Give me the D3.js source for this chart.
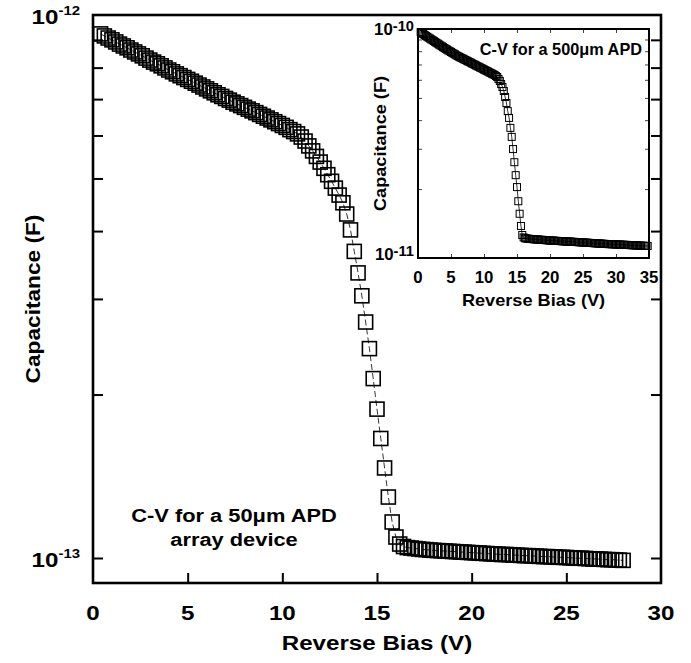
<!DOCTYPE html>
<html>
<head>
<meta charset="utf-8">
<script src="https://cdn.jsdelivr.net/npm/d3@7"></script>
<style>
  body { margin: 0; background: #fff; }
  text { font-family: "Liberation Sans", Arial, sans-serif; fill: #000; }
</style>
</head>
<body>
<div id="chart"></div>
<script>
// main curve: 50um array device, capacitance in fF
const biasMain = [
  0.4,0.6,0.8,1.0,1.2,1.4,1.6,1.8,2.0,2.2,
  2.4,2.6,2.8,3.0,3.2,3.4,3.6,3.8,4.0,4.2,
  4.4,4.6,4.8,5.0,5.2,5.4,5.6,5.8,6.0,6.2,
  6.4,6.6,6.8,7.0,7.2,7.4,7.6,7.8,8.0,8.2,
  8.4,8.6,8.8,9.0,9.2,9.4,9.6,9.8,10.0,10.2,
  10.4,10.6,10.8,11.0,11.2,11.4,11.6,11.8,12.0,12.2,
  12.4,12.6,12.8,13.0,13.2,13.4,13.6,13.8,14.0,14.2,
  14.4,14.6,14.8,15.0,15.2,15.4,15.6,15.8,16.0,16.2,
  16.4,16.6,16.8,17.0,17.2,17.4,17.6,17.8,18.0,18.2,
  18.4,18.6,18.8,19.0,19.2,19.4,19.6,19.8,20.0,20.2,
  20.4,20.6,20.8,21.0,21.2,21.4,21.6,21.8,22.0,22.2,
  22.4,22.6,22.8,23.0,23.2,23.4,23.6,23.8,24.0,24.2,
  24.4,24.6,24.8,25.0,25.2,25.4,25.6,25.8,26.0,26.2,
  26.4,26.6,26.8,27.0,27.2,27.4,27.6,27.8,28.0
];
const capMain = [
  923,915,907,900,892,884,877,870,862,855,848,841,833,826,819,813,806,799,792,
  786,779,773,767,761,755,749,743,737,731,725,719,713,708,702,
  697,691,686,681,676,671,666,661,656,651,646,641,636,631,626,
  621,615,610,604,596,586,574,562,549,536,522,508,494,480,466,451,430,402,367,335,
  304,272,243,214,188,166,146.5,129.5,116.5,109.3,106.1,105.0,104.5,
  104.3,104.1,103.9,103.7,103.6,103.4,
  103.3,103.2,103.1,103.0,102.9,102.8,102.7,102.6,102.5,102.4,102.3,102.2,102.1,102.0,
  101.9,101.8,101.7,101.6,101.5,101.5,101.4,101.3,
  101.2,101.1,101.0,101.0,100.9,100.8,100.7,100.6,100.6,100.5,100.4,100.3,100.3,100.2,
  100.1,100.0,99.9,99.9,99.8,99.7,99.6,99.6,99.5,99.4,99.3,99.3,99.2,99.1,99.0
];

// inset curve: 500um APD, capacitance in pF
const biasInset = [
  0.4,0.6,0.8,1.0,1.2,1.4,1.6,1.8,2.0,2.2,
  2.4,2.6,2.8,3.0,3.2,3.4,3.6,3.8,4.0,4.2,
  4.4,4.6,4.8,5.0,5.2,5.4,5.6,5.8,6.0,6.2,
  6.4,6.6,6.8,7.0,7.2,7.4,7.6,7.8,8.0,8.2,
  8.4,8.6,8.8,9.0,9.2,9.4,9.6,9.8,10.0,10.2,
  10.4,10.6,10.8,11.0,11.2,11.4,11.6,11.8,12.0,12.2,
  12.4,12.6,12.8,13.0,13.2,13.4,13.6,13.8,14.0,14.2,
  14.4,14.6,14.8,15.0,15.2,15.4,15.6,15.8,16.0,16.2,
  16.4,16.6,16.8,17.0,17.2,17.4,17.6,17.8,18.0,18.2,
  18.4,18.6,18.8,19.0,19.2,19.4,19.6,19.8,20.0,20.2,
  20.4,20.6,20.8,21.0,21.2,21.4,21.6,21.8,22.0,22.2,
  22.4,22.6,22.8,23.0,23.2,23.4,23.6,23.8,24.0,24.2,
  24.4,24.6,24.8,25.0,25.2,25.4,25.6,25.8,26.0,26.2,
  26.4,26.6,26.8,27.0,27.2,27.4,27.6,27.8,28.0,28.2,
  28.4,28.6,28.8,29.0,29.2,29.4,29.6,29.8,30.0,30.2,
  30.4,30.6,30.8,31.0,31.2,31.4,31.6,31.8,32.0,32.2,
  32.4,32.6,32.8,33.0,33.2,33.4,33.6,33.8,34.0,34.2,
  34.4,34.6,34.8
];
const capInset = [
  97.0,96.1,95.1,94.2,93.3,92.5,91.7,90.9,90.1,89.4,88.6,87.8,87.0,86.3,85.5,84.8,84.1,83.3,82.6,
  81.9,81.3,80.6,80.0,79.4,78.7,78.1,77.5,76.8,76.2,
  75.7,75.2,74.7,74.2,73.7,73.2,72.7,72.2,71.8,71.3,70.7,70.3,69.8,69.3,68.8,68.4,67.9,67.5,67.0,66.5,
  66.1,65.6,65.2,64.7,64.3,63.8,63.4,63.0,62.3,61.7,
  60.5,59.3,57.5,55.8,53.6,50.5,47.5,43.8,40.9,37.0,33.8,29.9,26.2,23.0,20.4,17.7,15.6,13.8,12.6,12.3,12.2,
  12.17,12.15,12.13,12.11,
  12.10,12.09,12.07,12.06,12.05,12.04,12.02,12.01,12.00,11.99,11.98,11.96,11.95,11.94,11.93,
  11.92,11.91,11.90,11.89,11.88,11.87,11.86,11.85,11.84,11.83,11.82,11.81,11.80,11.80,11.79,11.78,11.77,11.76,11.75,11.74,
  11.73,11.72,11.71,11.70,11.69,11.68,11.67,11.66,11.65,11.64,11.63,11.62,11.61,11.60,11.59,11.58,11.57,11.56,11.55,11.54,11.53,11.52,11.51,
  11.50,11.50,11.49,11.48,11.48,11.47,11.46,11.46,11.45,11.44,11.43,11.43,11.42,11.41,11.41,11.40,11.39,
  11.38,11.37,11.37,11.36,11.35,11.34,11.34,11.33,11.32,11.31,11.30,11.30,11.29,11.28
];

const xTicksMain = [0, 5, 10, 15, 20, 25, 30];
const xTicksInset = [0, 5, 10, 15, 20, 25, 30, 35];
const yMinorMain = [100, 200, 300, 400, 500, 600, 700, 800, 900];   // fF
const yMinorInset = [20, 30, 40, 50, 60, 70, 80, 90];               // pF
const yLabelsMain = [{v: 1000, exp: '-12'}, {v: 100, exp: '-13'}];
const yLabelsInset = [{v: 100, exp: '-10'}, {v: 10, exp: '-11'}];

const width = 691, height = 663;

let svg = d3.select('#chart')
  .append('svg')
  .attr('width', width)
  .attr('height', height);

function addText(g, x, y, str, o) {
  o = o || {};
  return g.append('text')
    .attr('transform', `translate(${x},${y}) rotate(${o.rotate || 0}) scale(${o.sx || 1},1)`)
    .attr('text-anchor', o.anchor || 'middle')
    .style('font-weight', o.weight || 'bold')
    .style('font-size', o.size + 'px')
    .text(str);
}

function powLabel(g, x, y, exp, o) {
  let t = addText(g, x, y, '', {anchor: 'end', size: o.size, sx: o.sx});
  t.append('tspan').text('10');
  t.append('tspan').attr('dy', -o.rise).style('font-size', o.sup + 'px').text(exp);
}

function styleAxis(sel, w, col) {
  sel.select('.domain').remove();
  sel.selectAll('.tick line').attr('stroke', col).attr('stroke-width', w);
}

// ---------- main plot ----------
let x = d3.scaleLinear().domain([0, 30]).range([93, 661]);
let y = d3.scaleLog().domain([100, 1000]).range([558, 15]);
const mTop = 15, mBottom = 583;

svg.append('g').attr('transform', `translate(0,${mBottom})`)
  .call(d3.axisBottom(x).tickValues([5, 10, 15, 20, 25]).tickSize(-10).tickFormat(''))
  .call(s => styleAxis(s, 2, '#000'));
svg.append('g').attr('transform', `translate(${x(0)},0)`)
  .call(d3.axisLeft(y).tickValues(yMinorMain).tickSize(-10).tickFormat(''))
  .call(s => styleAxis(s, 2, '#000'));
svg.append('g').attr('transform', `translate(${x(30)},0)`)
  .call(d3.axisRight(y).tickValues(yMinorMain).tickSize(-10).tickFormat(''))
  .call(s => styleAxis(s, 2, '#000'));

svg.append('rect')
  .attr('x', x(0)).attr('y', mTop)
  .attr('width', x(30) - x(0)).attr('height', mBottom - mTop)
  .attr('fill', 'none').attr('stroke', '#000').attr('stroke-width', 2.6);

let mainData = d3.zip(biasMain, capMain);

svg.append('path')
  .datum(mainData)
  .attr('fill', 'none')
  .attr('stroke', '#000')
  .attr('stroke-width', 0.8)
  .attr('stroke-dasharray', '6,3')
  .attr('d', d3.line().x(d => x(d[0])).y(d => y(d[1])));

svg.append('g').selectAll('rect')
  .data(mainData)
  .enter()
  .append('rect')
    .attr('x', d => x(d[0]) - 7)
    .attr('y', d => y(d[1]) - 7)
    .attr('width', 14)
    .attr('height', 14)
    .attr('fill', 'none')
    .attr('stroke', '#000')
    .attr('stroke-width', 1.6);

xTicksMain.forEach(t => addText(svg, x(t), 620, t, {size: 21, sx: 1.15}));
yLabelsMain.forEach(d => powLabel(svg, 80, y(d.v) + 9, d.exp, {size: 21, sup: 13, rise: 9, sx: 1.15}));

addText(svg, (x(0) + x(30)) / 2, 650, 'Reverse Bias (V)', {size: 21, sx: 1.15});
addText(svg, 40, (mTop + mBottom) / 2, 'Capacitance (F)', {size: 21, sx: 1.08, rotate: -90});

addText(svg, 234, 522, 'C-V for a 50\u03bcm APD', {size: 19, sx: 1.15});
addText(svg, 234, 546, 'array device', {size: 19, sx: 1.15});

// ---------- inset ----------
let xi = d3.scaleLinear().domain([0, 35]).range([418, 649]);
let yi = d3.scaleLog().domain([10, 100]).range([258, 29]);

svg.append('g').attr('transform', `translate(0,${yi(10)})`)
  .call(d3.axisBottom(xi).tickValues([5, 10, 15, 20, 25, 30]).tickSize(-4).tickFormat(''))
  .call(s => styleAxis(s, 1, '#444'));
svg.append('g').attr('transform', `translate(0,${yi(100)})`)
  .call(d3.axisTop(xi).tickValues([5, 10, 15, 20, 25, 30]).tickSize(-4).tickFormat(''))
  .call(s => styleAxis(s, 1, '#444'));
svg.append('g').attr('transform', `translate(${xi(0)},0)`)
  .call(d3.axisLeft(yi).tickValues(yMinorInset).tickSize(-4).tickFormat(''))
  .call(s => styleAxis(s, 1, '#444'));
svg.append('g').attr('transform', `translate(${xi(35)},0)`)
  .call(d3.axisRight(yi).tickValues(yMinorInset).tickSize(-4).tickFormat(''))
  .call(s => styleAxis(s, 1, '#444'));

svg.append('rect')
  .attr('x', xi(0)).attr('y', yi(100))
  .attr('width', xi(35) - xi(0)).attr('height', yi(10) - yi(100))
  .attr('fill', 'none').attr('stroke', '#000').attr('stroke-width', 2);

let insetData = d3.zip(biasInset, capInset);

svg.append('path')
  .datum(insetData)
  .attr('fill', 'none')
  .attr('stroke', '#000')
  .attr('stroke-width', 0.8)
  .attr('d', d3.line().x(d => xi(d[0])).y(d => yi(d[1])));

svg.append('g').selectAll('rect')
  .data(insetData)
  .enter()
  .append('rect')
    .attr('x', d => xi(d[0]) - 3.5)
    .attr('y', d => yi(d[1]) - 3.5)
    .attr('width', 7)
    .attr('height', 7)
    .attr('fill', 'none')
    .attr('stroke', '#000')
    .attr('stroke-width', 1);

xTicksInset.forEach(t => addText(svg, xi(t), 283, t, {size: 16, sx: 1.05}));
yLabelsInset.forEach((d, i) => powLabel(svg, 414, yi(d.v) + (i == 0 ? 6 : 2), d.exp, {size: 16, sup: 14, rise: 4, sx: 1.05}));

addText(svg, (xi(0) + xi(35)) / 2, 306, 'Reverse Bias (V)', {size: 16.5, sx: 1.1});
addText(svg, 386, (yi(10) + yi(100)) / 2, 'Capacitance (F)', {size: 16.5, sx: 1.1, rotate: -90});
addText(svg, 642, 55, 'C-V for a 500\u03bcm APD', {size: 16.3, anchor: 'end'});
</script>
</body>
</html>
